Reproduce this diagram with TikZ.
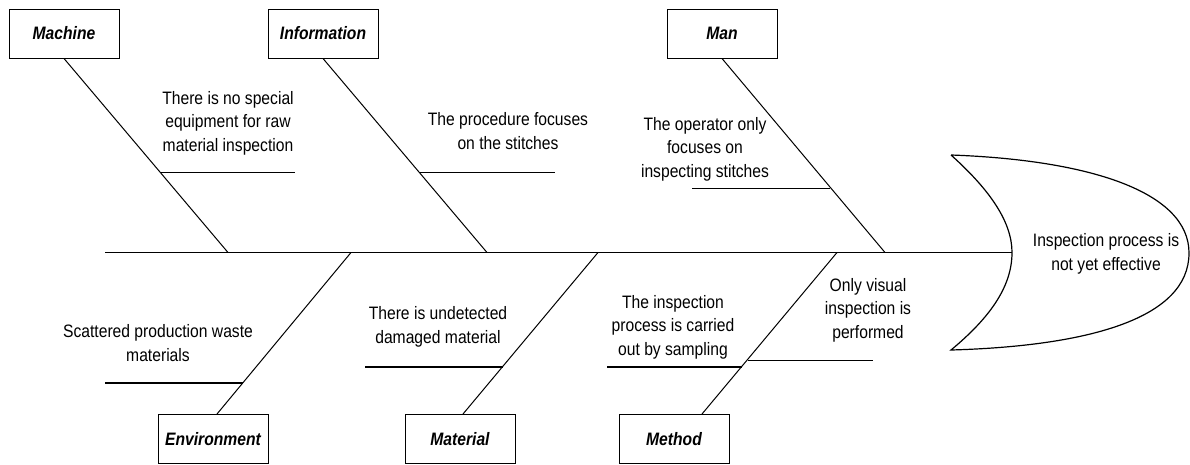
\documentclass[tikz,border=0pt]{standalone}
\usepackage{fontspec}
\setmainfont{Liberation Sans}[FakeStretch=0.87]
\usetikzlibrary{positioning}

\begin{document}
\begin{tikzpicture}[
  x=1pt, y=-1pt,
  font=\fontsize{18}{23.5}\selectfont,
  B/.style={
    draw, line width=1pt, minimum width=110pt, minimum height=49pt,
    inner sep=0pt, font=\fontsize{18}{20}\selectfont\bfseries\itshape
  },
  C/.style={align=center, inner sep=0pt},
  bone/.style={line width=1pt},
  spine/.style={line width=1.8pt}
]
  \useasboundingbox (0,0) rectangle (1190,464);

  % category boxes
  \node[B] (machine) at (64,33.5) {Machine};
  \node[B] (info)    at (323,33.5) {Information};
  \node[B] (man)     at (722,33.5) {Man};
  \node[B] (env)     at (213,439) {Environment};
  \node[B] (mat)     at (460,439) {Material};
  \node[B] (meth)    at (674,439) {Method};

  % head
  \coordinate (htop) at (951,155);
  \coordinate (hbot) at (951,350);
  \coordinate (spineend) at (1012,252.5);
  \draw[line width=1.2pt] (htop) .. controls (990,190) and (1012,222) .. (spineend)
    .. controls (1012,285) and (992,316) .. (hbot)
    .. controls (1090,346) and (1189,318) .. (1189,253)
    .. controls (1189,192) and (1090,160) .. (htop);
  \node[C] (effect) at (1106,254) {Inspection process is\\not yet effective};

  % spine and bones
  \coordinate (tail) at (105,252.5);
  \coordinate (m1) at (228,252.5);
  \coordinate (i1) at (487,252.5);
  \coordinate (a1) at (885,252.5);
  \coordinate (e1) at (351,252.5);
  \coordinate (t1) at (598,252.5);
  \coordinate (d1) at (837,252.5);
  \draw[spine] (tail) -- (spineend);

  \draw[bone] (machine.south) -- (m1);
  \draw[bone] (info.south) -- (i1);
  \draw[bone] (man.south) -- (a1);
  \draw[bone] ([xshift=4pt]env.north) -- (e1);
  \draw[bone] ([xshift=3pt]mat.north) -- (t1);
  \draw[bone] ([xshift=28pt]meth.north) -- (d1);

  % causes
  \coordinate (m2) at (160,172);  \coordinate (m3) at (295,172);
  \coordinate (i2) at (419,172);  \coordinate (i3) at (555,172);
  \coordinate (a2) at (692,188);  \coordinate (a3) at (830,188);
  \coordinate (e2) at (105,383);  \coordinate (e3) at (243,383);
  \coordinate (t2) at (365,367);  \coordinate (t3) at (503,367);
  \coordinate (d2) at (607,367);  \coordinate (d3) at (742,367);
  \coordinate (d4) at (748,360);  \coordinate (d5) at (873,360);
  \draw[bone] (m2) -- (m3);
  \draw[bone] (i2) -- (i3);
  \draw[bone] (a2) -- (a3);
  \draw[bone, line width=1.6pt] (e2) -- (e3);
  \draw[bone, line width=1.6pt] (t2) -- (t3);
  \draw[bone, line width=1.6pt] (d2) -- (d3);
  \draw[bone] (d4) -- (d5);

  \node[C] (c1) at (228,123) {There is no special\\equipment for raw\\material inspection};
  \node[C] (c2) at (508,131) {The procedure focuses\\on the stitches};
  \node[C] (c3) at (705,149) {The operator only\\focuses on\\inspecting stitches};
  \node[C] (c4) at (158,343) {Scattered production waste\\materials};
  \node[C] (c5) at (438,327) {There is undetected\\damaged material};
  \node[C] (c6) at (673,327) {The inspection\\process is carried\\out by sampling};
  \node[C] (c7) at (868,310) {Only visual\\inspection is\\performed};
\end{tikzpicture}
\end{document}
